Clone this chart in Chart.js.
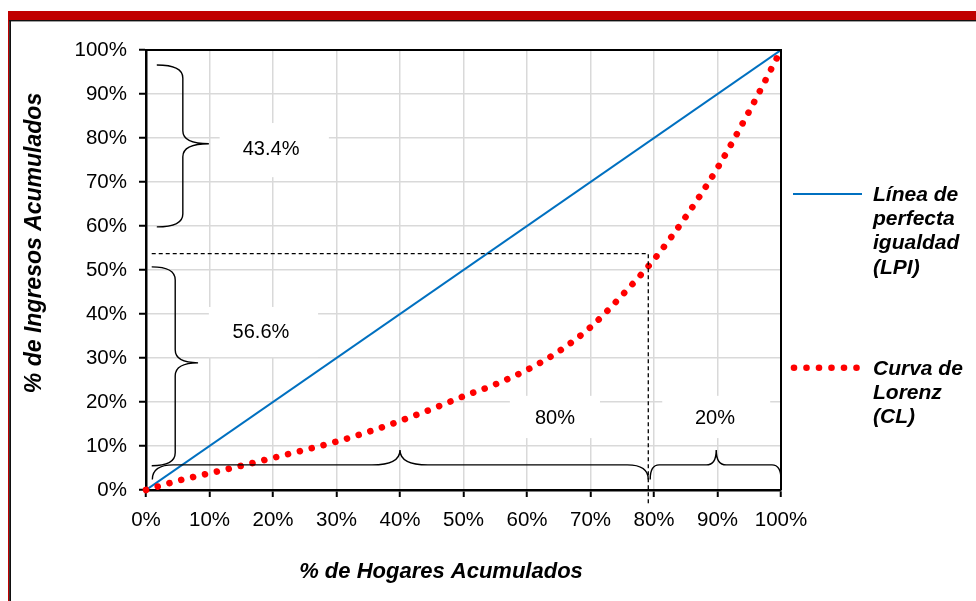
<!DOCTYPE html>
<html lang="es">
<head>
<meta charset="utf-8">
<title>Curva de Lorenz</title>
<script src="https://cdn.jsdelivr.net/npm/chart.js@4/dist/chart.umd.min.js"></script>
<style>
  html, body { margin: 0; padding: 0; background: #ffffff; }
  canvas { display: block; }
</style>
</head>
<body>
<canvas id="lorenz" width="976" height="601"></canvas>
<script>
// % de hogares acumulados y % de ingresos acumulados (Curva de Lorenz)
const hogares  = [0, 5, 10, 15, 20, 25, 30, 35, 40, 45, 50, 55, 60, 65, 70, 75, 80, 85, 90, 95, 100];
const ingresos = [0, 2.1, 3.8, 5.5, 7.3, 9.1, 11.0, 13.2, 15.7, 18.4, 21.3, 24.0, 27.3, 31.5, 37.0, 44.3, 52.4, 62.1, 73.2, 86.1, 100];

// Línea de perfecta igualdad
const igualdadX = [0, 100];
const igualdadY = [0, 100];

// Punto de corte marcado con líneas discontinuas
const corteHogares = 79.1;
const corteIngresos = 53.7;

// Participaciones señaladas con llaves
const participacionSuperior = '43.4%';
const participacionInferior = '56.6%';
const tramoHogaresBajo = '80%';
const tramoHogaresAlto = '20%';

// Etiquetas de los ejes
const xTickLabels = ['0%', '10%', '20%', '30%', '40%', '50%', '60%', '70%', '80%', '90%', '100%'];
const yTickLabels = ['0%', '10%', '20%', '30%', '40%', '50%', '60%', '70%', '80%', '90%', '100%'];
const xTitle = '% de Hogares Acumulados';
const yTitle = '% de Ingresos Acumulados';
const legendLPI = ['Línea de', 'perfecta', 'igualdad', '(LPI)'];
const legendCL = ['Curva de', 'Lorenz', '(CL)'];

const FONT = '"Liberation Sans", Arial, sans-serif';
const BLUE = '#0070C0';
const RED = '#FF0000';

const toPoints = (xs, ys) => xs.map((x, i) => ({ x, y: ys[i] }));

// Marco de la hoja: barra roja superior y borde izquierdo
const framePlugin = {
  id: 'frame',
  beforeDraw(chart) {
    const ctx = chart.ctx;
    ctx.save();
    ctx.fillStyle = '#ffffff';
    ctx.fillRect(0, 0, chart.width, chart.height);
    ctx.fillStyle = '#C00000';
    ctx.fillRect(8, 11, chart.width - 8, 9);
    ctx.fillRect(8, 11, 1.2, chart.height - 11);
    ctx.fillStyle = '#111111';
    ctx.fillRect(9.2, 20, chart.width - 9, 1.4);
    ctx.fillRect(9.2, 20, 1.8, chart.height - 20);
    ctx.restore();
  }
};

// Cajas blancas detrás de los rótulos (tapan la rejilla)
const boxes = [
  { x0: 11.6, x1: 28.8, y0: 71.1, y1: 83.4 },
  { x0: 9.9,  x1: 27.1, y0: 30.2, y1: 41.6 },
  { x0: 57.3, x1: 71.5, y0: 11.8, y1: 21.4 },
  { x0: 81.3, x1: 98.3, y0: 11.8, y1: 21.4 }
];

const boxPlugin = {
  id: 'labelBoxes',
  beforeDatasetsDraw(chart) {
    const { ctx, scales: { x, y } } = chart;
    ctx.save();
    ctx.fillStyle = '#ffffff';
    boxes.forEach(b => {
      const l = x.getPixelForValue(b.x0), r = x.getPixelForValue(b.x1);
      const t = y.getPixelForValue(b.y1), btm = y.getPixelForValue(b.y0);
      ctx.fillRect(l, t, r - l, btm - t);
    });
    ctx.restore();
  }
};

// Llaves verticales (apuntan a la derecha) y horizontales (apuntan hacia arriba)
function braceV(ctx, xe, xs, xt, yT, yM, yB, r) {
  ctx.beginPath();
  ctx.moveTo(xe, yT);
  ctx.quadraticCurveTo(xs, yT, xs, yT + r);
  ctx.lineTo(xs, yM - r);
  ctx.quadraticCurveTo(xs, yM, xt, yM);
  ctx.quadraticCurveTo(xs, yM, xs, yM + r);
  ctx.lineTo(xs, yB - r);
  ctx.quadraticCurveTo(xs, yB, xe, yB);
  ctx.stroke();
}
function braceH(ctx, xL, xM, xR, ye, yl, yt, rE, rT) {
  ctx.beginPath();
  ctx.moveTo(xL, ye);
  ctx.quadraticCurveTo(xL, yl, xL + rE, yl);
  ctx.lineTo(xM - rT, yl);
  ctx.quadraticCurveTo(xM, yl, xM, yt);
  ctx.quadraticCurveTo(xM, yl, xM + rT, yl);
  ctx.lineTo(xR - rE, yl);
  ctx.quadraticCurveTo(xR, yl, xR, ye);
  ctx.stroke();
}

const annotationPlugin = {
  id: 'annotations',
  afterDatasetsDraw(chart) {
    const { ctx, scales: { x, y } } = chart;
    const X = v => x.getPixelForValue(v);
    const Y = v => y.getPixelForValue(v);
    ctx.save();

    // Líneas discontinuas del punto de corte
    ctx.strokeStyle = '#000000';
    ctx.lineWidth = 1.3;
    ctx.setLineDash([4, 3]);
    ctx.beginPath();
    ctx.moveTo(X(0.9), Y(corteIngresos));
    ctx.lineTo(X(corteHogares), Y(corteIngresos));
    ctx.lineTo(X(corteHogares), Y(0) + 14);
    ctx.stroke();
    ctx.setLineDash([]);

    // Llaves
    ctx.lineWidth = 1.4;
    braceV(ctx, X(1.7), X(5.8), X(9.9), Y(96.6), Y(78.7), Y(59.8), 13);
    braceV(ctx, X(0.9), X(4.6), X(8.2), Y(50.7), Y(28.9), Y(5.5), 13);
    braceH(ctx, X(1.0), X(40), X(corteHogares), Y(2.4), Y(5.7), Y(9.1), 21, 28);
    braceH(ctx, X(corteHogares + 0.3), X(89.8), X(100), Y(2.4), Y(5.7), Y(9.1), 9, 10);

    // Rótulos de las llaves
    ctx.fillStyle = '#000000';
    ctx.font = '20px ' + FONT;
    ctx.textAlign = 'center';
    ctx.textBaseline = 'middle';
    ctx.fillText(participacionSuperior, X(19.7), Y(77.3));
    ctx.fillText(participacionInferior, X(18.1), Y(35.7));
    ctx.fillText(tramoHogaresBajo, X(64.4), Y(16.3));
    ctx.fillText(tramoHogaresAlto, X(89.6), Y(16.3));
    ctx.restore();
  },
  afterDraw(chart) {
    const { ctx, chartArea: a } = chart;
    ctx.save();
    // Títulos de los ejes
    ctx.fillStyle = '#000000';
    ctx.textAlign = 'center';
    ctx.textBaseline = 'middle';
    ctx.font = 'italic bold 22px ' + FONT;
    ctx.fillText(xTitle, 441, 572);
    ctx.font = 'italic bold 23px ' + FONT;
    ctx.translate(35, 243);
    ctx.rotate(-Math.PI / 2);
    ctx.fillText(yTitle, 0, 0);
    ctx.restore();

    // Leyenda
    ctx.save();
    ctx.lineWidth = 2;
    ctx.strokeStyle = BLUE;
    ctx.beginPath();
    ctx.moveTo(793, 194);
    ctx.lineTo(862, 194);
    ctx.stroke();
    ctx.fillStyle = RED;
    for (let i = 0; i < 6; i++) {
      ctx.beginPath();
      ctx.arc(794 + i * 12.5, 367.7, 3.3, 0, Math.PI * 2);
      ctx.fill();
    }
    ctx.fillStyle = '#000000';
    ctx.font = 'italic bold 21px ' + FONT;
    ctx.textAlign = 'left';
    ctx.textBaseline = 'middle';
    legendLPI.forEach((t, i) => ctx.fillText(t, 873, 195 + i * 24.3));
    legendCL.forEach((t, i) => ctx.fillText(t, 873, 369 + i * 24.3));
    ctx.restore();

    // Borde superior y derecho del área de trazado
    ctx.save();
    ctx.strokeStyle = '#000000';
    ctx.lineWidth = 2;
    ctx.beginPath();
    ctx.moveTo(a.left, a.top);
    ctx.lineTo(a.right, a.top);
    ctx.lineTo(a.right, a.bottom);
    ctx.stroke();
    ctx.restore();
  }
};

new Chart(document.getElementById('lorenz'), {
  type: 'scatter',
  data: {
    datasets: [
      {
        label: 'Curva de Lorenz (CL)',
        data: toPoints(hogares, ingresos),
        showLine: true,
        borderColor: RED,
        backgroundColor: RED,
        borderWidth: 6.6,
        borderDash: [0.01, 12.2],
        borderCapStyle: 'round',
        cubicInterpolationMode: 'monotone',
        pointRadius: 0,
        pointHoverRadius: 0,
        clip: false
      },
      {
        label: 'Línea de perfecta igualdad (LPI)',
        data: toPoints(igualdadX, igualdadY),
        showLine: true,
        borderColor: BLUE,
        backgroundColor: BLUE,
        borderWidth: 2,
        pointRadius: 0,
        pointHoverRadius: 0
      }
    ]
  },
  options: {
    responsive: false,
    devicePixelRatio: 1,
    animation: false,
    events: [],
    layout: { padding: { top: 50, right: 195, left: 0, bottom: 0 } },
    plugins: {
      legend: { display: false },
      tooltip: { enabled: false }
    },
    scales: {
      x: {
        type: 'linear',
        min: 0,
        max: 100,
        afterFit(scale) { scale.height = 111; },
        afterBuildTicks(scale) {
          scale.ticks = xTickLabels.map((_, i) => ({ value: i * 10 }));
        },
        ticks: {
          autoSkip: false,
          maxRotation: 0,
          padding: 11,
          color: '#000000',
          font: { family: FONT, size: 20.5 },
          callback: (v, i) => xTickLabels[i]
        },
        grid: {
          color: '#d9d9d9',
          lineWidth: 1.5,
          drawTicks: true,
          tickLength: 7,
          tickColor: '#000000',
          tickWidth: 2
        },
        border: { display: true, color: '#000000', width: 2.5 }
      },
      y: {
        type: 'linear',
        min: 0,
        max: 100,
        afterFit(scale) { scale.width = 146; },
        afterBuildTicks(scale) {
          scale.ticks = yTickLabels.map((_, i) => ({ value: i * 10 }));
        },
        ticks: {
          autoSkip: false,
          padding: 12,
          color: '#000000',
          font: { family: FONT, size: 20.5 },
          callback: (v, i) => yTickLabels[i]
        },
        grid: {
          color: '#d9d9d9',
          lineWidth: 1.5,
          drawTicks: true,
          tickLength: 7,
          tickColor: '#000000',
          tickWidth: 2
        },
        border: { display: true, color: '#000000', width: 2.5 }
      }
    }
  },
  plugins: [framePlugin, boxPlugin, annotationPlugin]
});
</script>
</body>
</html>
